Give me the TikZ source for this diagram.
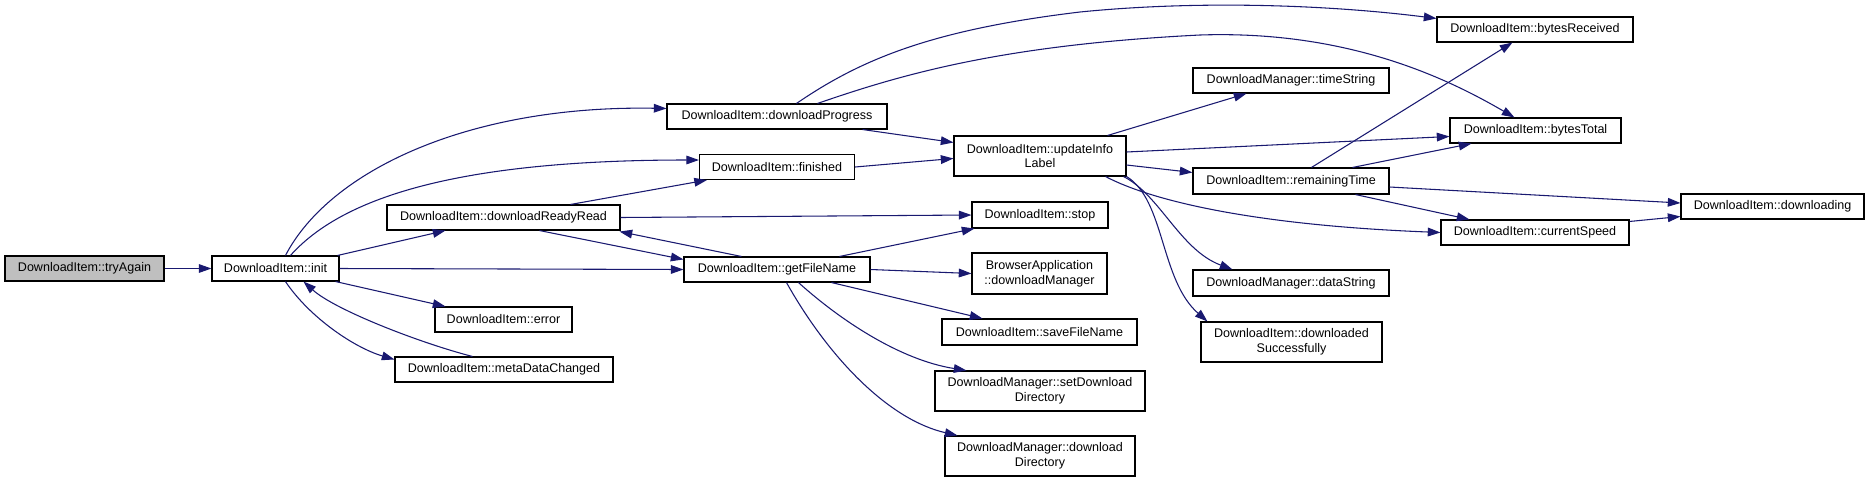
\documentclass[tikz,border=0pt]{standalone}
\usepackage{fontspec}
\setmainfont{Liberation Sans}
\usetikzlibrary{arrows.meta,calc}
\definecolor{edgeblue}{RGB}{25,25,112}
\definecolor{hlgray}{RGB}{191,191,191}
\tikzset{
  box/.style={draw=black, line width=0.8pt, fill=white, inner sep=0pt, align=center,
    font=\fontsize{9.4}{11}\selectfont},
  sz/.style 2 args={minimum width=#1*0.75pt, minimum height=#2*0.75pt},
  cur/.style={fill=hlgray},
  edge/.style={draw=edgeblue, line width=0.8pt, -{Triangle[length=9.5pt,width=6.5pt]}}
}
\begin{document}
\begin{tikzpicture}[x=0.75pt,y=-0.75pt]
\useasboundingbox (0,0) rectangle (1869,483);
% nodes
\node[box,cur,sz={159}{25}] (tryAgain) at (84.5,268.5) {DownloadItem::tryAgain};
\node[box,sz={127}{25}] (init) at (275.5,268.5) {DownloadItem::init};
\node[box,sz={220}{25}] (dlProgress) at (777,116.5) {DownloadItem::downloadProgress};
\node[box,sz={155}{25}] (finished) at (777,167) {DownloadItem::finished};
\node[box,sz={233}{25}] (readyRead) at (503.5,217.5) {DownloadItem::downloadReadyRead};
\node[box,sz={186}{25}] (getFileName) at (777,269.5) {DownloadItem::getFileName};
\node[box,sz={137}{25}] (error) at (503.5,319.5) {DownloadItem::error};
\node[box,sz={218}{25}] (metaData) at (504,369.5) {DownloadItem::metaDataChanged};
\node[box,sz={172}{40}] (updateInfo) at (1040,156) {DownloadItem::updateInfo\\Label};
\node[box,sz={136}{26}] (stop) at (1040,215) {DownloadItem::stop};
\node[box,sz={135}{41}] (browserApp) at (1039.5,273.5) {BrowserApplication\\::downloadManager};
\node[box,sz={195}{26}] (saveFileName) at (1039.5,332) {DownloadItem::saveFileName};
\node[box,sz={210}{40}] (setDlDir) at (1040,391) {DownloadManager::setDownload\\Directory};
\node[box,sz={190}{40}] (dlDir) at (1040,456) {DownloadManager::download\\Directory};
\node[box,sz={196}{25}] (timeString) at (1291,80.5) {DownloadManager::timeString};
\node[box,sz={196}{26}] (remainingTime) at (1291,181) {DownloadItem::remainingTime};
\node[box,sz={196}{26}] (dataString) at (1291,283) {DownloadManager::dataString};
\node[box,sz={181}{40}] (dlSuccess) at (1291.5,342) {DownloadItem::downloaded\\Successfully};
\node[box,sz={196}{25}] (bytesReceived) at (1535,29.5) {DownloadItem::bytesReceived};
\node[box,sz={171}{25}] (bytesTotal) at (1535.5,130.5) {DownloadItem::bytesTotal};
\node[box,sz={188}{25}] (currentSpeed) at (1535,232.5) {DownloadItem::currentSpeed};
\node[box,sz={183}{25}] (downloading) at (1772.5,206.5) {DownloadItem::downloading};
% edges
\draw[edge] (tryAgain.east) -- (init.west);
\draw[edge] ($(init.north west)+(74,0)$) .. controls (330,170) and (470,105) .. ($(dlProgress.north west)+(0,5)$);
\draw[edge] ($(init.north west)+(79,0)$) .. controls (340,200) and (450,160) .. ($(finished.west)+(0,-7)$);
\draw[edge] ($(init.north east)+(-2,0)$) -- ($(readyRead.south west)+(59,0)$);
\draw[edge] (init.east) -- (getFileName.west);
\draw[edge] ($(init.south east)+(-4,0)$) -- ($(error.north west)+(11,0)$);
\draw[edge] ($(init.south west)+(74,0)$) .. controls (310,318) and (355,348) .. ($(metaData.north west)+(0,3)$);
\draw[edge] ($(metaData.north west)+(78,0)$) .. controls (420,343) and (335,310) .. ($(init.south west)+(92,0)$);
\draw[edge] ($(dlProgress.north west)+(130,0)$) .. controls (860,60) and (930,30) .. (1080,12) .. controls (1200,0) and (1330,5) .. ($(bytesReceived.north west)+(0,2)$);
\draw[edge] ($(dlProgress.north west)+(151,0)$) .. controls (900,75) and (1000,45) .. (1200,35) .. controls (1350,30) and (1450,80) .. ($(bytesTotal.north west)+(65,0)$);
\draw[edge] ($(dlProgress.south east)+(-25,0)$) -- ($(updateInfo.north west)+(0,7)$);
\draw[edge] (finished.east) -- ($(updateInfo.north west)+(0,23)$);
\draw[edge] ($(readyRead.north west)+(184,0)$) -- ($(finished.south west)+(8,0)$);
\draw[edge] (readyRead.east) -- (stop.west);
\draw[edge] ($(readyRead.south west)+(153,0)$) -- ($(getFileName.north west)+(0,3)$);
\draw[edge] ($(getFileName.north west)+(58,0)$) -- ($(readyRead.south east)+(-1,1)$);
\draw[edge] ($(getFileName.north west)+(156,0)$) -- ($(stop.south west)+(3,0)$);
\draw[edge] (getFileName.east) -- (browserApp.west);
\draw[edge] ($(getFileName.south west)+(148,0)$) -- ($(saveFileName.north west)+(41,0)$);
\draw[edge] ($(getFileName.south west)+(115,0)$) .. controls (840,320) and (900,360) .. ($(setDlDir.north west)+(32,0)$);
\draw[edge] ($(getFileName.south west)+(103,0)$) .. controls (830,360) and (890,420) .. ($(dlDir.north west)+(13,0)$);
\draw[edge] ($(updateInfo.north east)+(-19,0)$) -- ($(timeString.south west)+(54,0)$);
\draw[edge] ($(updateInfo.east)+(0,-4)$) -- ($(bytesTotal.north west)+(0,19)$);
\draw[edge] ($(updateInfo.east)+(0,9)$) -- ($(remainingTime.north west)+(0,5)$);
\draw[edge] ($(updateInfo.south east)+(-21,0)$) .. controls (1150,200) and (1250,225) .. (currentSpeed.west);
\draw[edge] ($(updateInfo.south east)+(-3,0)$) .. controls (1160,195) and (1180,250) .. ($(dataString.north west)+(40,0)$);
\draw[edge] (updateInfo.south east) .. controls (1165,200) and (1160,280) .. ($(dlSuccess.north west)+(7,0)$);
\draw[edge] ($(remainingTime.north west)+(119,0)$) -- ($(bytesReceived.south west)+(76,0)$);
\draw[edge] ($(remainingTime.north west)+(160,0)$) -- ($(bytesTotal.south west)+(22,0)$);
\draw[edge] ($(remainingTime.east)+(0,6)$) -- ($(downloading.west)+(0,-3.5)$);
\draw[edge] ($(remainingTime.south west)+(163,0)$) -- ($(currentSpeed.north west)+(29,0)$);
\draw[edge] ($(currentSpeed.north east)+(0,2)$) -- ($(downloading.west)+(0,10)$);
\end{tikzpicture}
\end{document}
